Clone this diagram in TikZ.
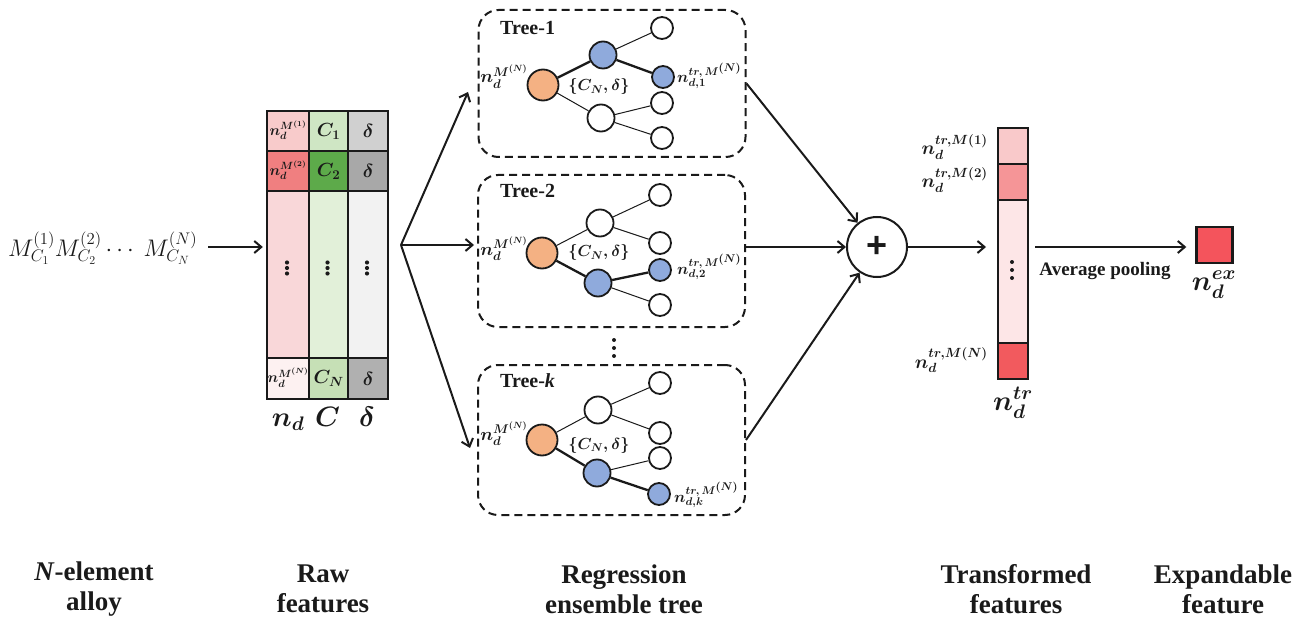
\RequirePackage{fix-cm}
\documentclass[tikz,border=0pt]{standalone}
\usepackage{fontspec}
\setmainfont{Liberation Serif}
\setsansfont{Liberation Sans}
\usetikzlibrary{arrows.meta}

% cell colours
\definecolor{ndA}{HTML}{F8CBCB}
\definecolor{ndB}{HTML}{F07F80}
\definecolor{ndM}{HTML}{F9D7D9}
\definecolor{ndN}{HTML}{FDF1F1}
\definecolor{cA}{HTML}{CFE6C4}
\definecolor{cB}{HTML}{5DAA4A}
\definecolor{cM}{HTML}{E2F0D9}
\definecolor{cN}{HTML}{C6E0B6}
\definecolor{dA}{HTML}{D0D0D0}
\definecolor{dB}{HTML}{A8A8A8}
\definecolor{dM}{HTML}{F2F2F2}
\definecolor{dN}{HTML}{B0B0B0}
\definecolor{tA}{HTML}{F9C9CA}
\definecolor{tB}{HTML}{F59597}
\definecolor{tM}{HTML}{FDE6E7}
\definecolor{tN}{HTML}{F25A5E}
\definecolor{exc}{HTML}{F4545C}
\definecolor{rootc}{HTML}{F4B183}
\definecolor{hlc}{HTML}{8FAADC}
\definecolor{ink}{HTML}{1A1A1A}

% superscript label with a full-size script index
\newcommand{\msup}[1]{M^{\scriptstyle(#1)}}

\begin{document}
\begin{tikzpicture}[x=1pt,y=-1pt,
  every node/.style={text=ink},
  arr/.style={draw=ink, line width=2pt, -{Straight Barb[length=7pt,width=12pt]}},
  cellbox/.style={draw=ink, line width=2.4pt, inner sep=0pt, anchor=north west},
  treebox/.style={draw=ink, dashed, dash pattern=on 8pt off 5pt, line width=2pt,
    rounded corners=20pt, minimum width=267, inner sep=0pt},
  rootn/.style={circle, draw=ink, line width=1.8pt, fill=rootc, minimum size=31, inner sep=0pt},
  midn/.style={circle, draw=ink, line width=1.8pt, fill=white, minimum size=27, inner sep=0pt},
  leafn/.style={circle, draw=ink, line width=1.8pt, fill=white, minimum size=22, inner sep=0pt},
  thick edge/.style={draw=ink, line width=2.3pt},
  thin edge/.style={draw=ink, line width=1pt},
  bm/.style={font=\boldmath\fontsize{#1}{#1}\selectfont, inner sep=0pt},
  caption/.style={font=\fontsize{27}{30}\selectfont\bfseries, align=center},
  vdot/.style={fill=ink, draw=none}
]
\useasboundingbox (0,0) rectangle (1316,620);

% ---------- alloy composition ----------
\node[anchor=base west, inner sep=0pt, font=\fontsize{24}{24}\selectfont] (alloy) at (8,257)
  {$M_{C_1}^{(1)}M_{C_2}^{(2)}\cdots\ M_{C_N}^{(N)}$};
\coordinate (a1) at (208,247);

% ---------- raw feature table ----------
\node[cellbox, fill=ndA, minimum width=42, minimum height=40]  (nd1) at (266,110) {};
\node[cellbox, fill=ndB, minimum width=42, minimum height=40]  (nd2) at (266,150) {};
\node[cellbox, fill=ndM, minimum width=42, minimum height=167] (ndm) at (266,190) {};
\node[cellbox, fill=ndN, minimum width=42, minimum height=41]  (ndn) at (266,357) {};
\node[cellbox, fill=cA, minimum width=39, minimum height=40]  (c1) at (308,110) {};
\node[cellbox, fill=cB, minimum width=39, minimum height=40]  (c2) at (308,150) {};
\node[cellbox, fill=cM, minimum width=39, minimum height=167] (cm) at (308,190) {};
\node[cellbox, fill=cN, minimum width=39, minimum height=41]  (cn) at (308,357) {};
\node[cellbox, fill=dA, minimum width=40, minimum height=40]  (d1) at (347,110) {};
\node[cellbox, fill=dB, minimum width=40, minimum height=40]  (d2) at (347,150) {};
\node[cellbox, fill=dM, minimum width=40, minimum height=167] (dm) at (347,190) {};
\node[cellbox, fill=dN, minimum width=40, minimum height=41]  (dn) at (347,357) {};
\node[minimum width=121, minimum height=288, inner sep=0pt] (tbl) at (326.5,254) {};

\node[bm=15] at ([yshift=1pt]nd1.center) {$n_d^{M^{(1)}}$};
\node[bm=15] at ([yshift=1pt]nd2.center) {$n_d^{M^{(2)}}$};
\node[bm=15] at ([yshift=1pt]ndn.center) {$n_d^{M^{(N)}}$};
\node[bm=19] at (c1) {$C_1$};
\node[bm=19] at (c2) {$C_2$};
\node[bm=19] at (cn) {$C_N$};
\node[bm=19] at (d1) {$\delta$};
\node[bm=19] at (d2) {$\delta$};
\node[bm=19] at (dn) {$\delta$};
\foreach \cx in {287,327.5,367}{
  \foreach \cy in {262.5,268,273.5}{
    \fill[vdot] (\cx,\cy) circle (2.1pt);
  }
}
\node[bm=28, anchor=base] at (288,426) {$n_d$};
\node[bm=28, anchor=base] at (327.5,426) {$C$};
\node[bm=28, anchor=base] at (367,426) {$\delta$};

\draw[arr, shorten >=3pt] (a1) -- (a1 -| tbl.west);

% ---------- regression trees ----------
\node[treebox, minimum height=147] (box1) at (612,83.5) {};
\node[treebox, minimum height=152] (box2) at (611.5,251) {};
\node[treebox, minimum height=150] (boxk) at (611.5,440) {};

\coordinate (fork) at (401,245);
\coordinate (in1) at (468,92);
\coordinate (in2) at (474,245);
\coordinate (in3) at (470,448);
\draw[arr] (fork) -- (in1);
\draw[arr] (fork) -- (in2);
\draw[arr] (fork) -- (in3);

\foreach \cy in {340,348,356}{ \fill[vdot] (614,\cy) circle (2pt); }

% Tree-1
\node[anchor=base west, inner sep=0pt, font=\fontsize{20}{20}\selectfont\bfseries] (t1) at (500,35) {Tree-1};
\node[rootn] (r1) at (543,85) {};
\node[midn, fill=hlc] (u1) at (603,55) {};
\node[midn] (w1) at (601,118) {};
\node[leafn] (l11) at (662,28) {};
\node[leafn, fill=hlc] (l12) at (663,77) {};
\node[leafn] (l13) at (662,103) {};
\node[leafn] (l14) at (662,138) {};
\draw[thick edge] (r1) -- (u1);
\draw[thick edge] (u1) -- (l12);
\draw[thin edge] (u1) -- (l11);
\draw[thin edge] (r1) -- (w1);
\draw[thin edge] (w1) -- (l13);
\draw[thin edge] (w1) -- (l14);
\node[bm=18, anchor=base east] at (528,83) {$n_d^{M^{(N)}}$};
\node[bm=16] at (599,87) {$\{C_N,\delta\}$};
\node[bm=16, anchor=base west] at (677,83) {$n_{d,1}^{tr,\,\msup{N}}$};

% Tree-2
\node[anchor=base west, inner sep=0pt, font=\fontsize{20}{20}\selectfont\bfseries] (t2) at (500,198) {Tree-2};
\node[rootn] (r2) at (542,253) {};
\node[midn] (u2) at (600,223) {};
\node[midn, fill=hlc] (w2) at (598,283) {};
\node[leafn] (l21) at (660,195) {};
\node[leafn] (l22) at (660,243) {};
\node[leafn, fill=hlc] (l23) at (660,270) {};
\node[leafn] (l24) at (660,305) {};
\draw[thick edge] (r2) -- (w2);
\draw[thick edge] (w2) -- (l23);
\draw[thin edge] (r2) -- (u2);
\draw[thin edge] (u2) -- (l21);
\draw[thin edge] (u2) -- (l22);
\draw[thin edge] (w2) -- (l24);
\node[bm=18, anchor=base east] at (528,255) {$n_d^{M^{(N)}}$};
\node[bm=16] at (599,253) {$\{C_N,\delta\}$};
\node[bm=16, anchor=base west] at (677,274) {$n_{d,2}^{tr,\,\msup{N}}$};

% Tree-k
\node[anchor=base west, inner sep=0pt, font=\fontsize{20}{20}\selectfont\bfseries] (tk) at (500,387) {Tree-\textit{k}};
\node[rootn] (rk) at (542,440) {};
\node[midn] (uk) at (598,410) {};
\node[midn, fill=hlc] (wk) at (597,473) {};
\node[leafn] (lk1) at (660,383) {};
\node[leafn] (lk2) at (660,433) {};
\node[leafn] (lk3) at (660,458) {};
\node[leafn, fill=hlc] (lk4) at (659,494) {};
\draw[thick edge] (rk) -- (wk);
\draw[thick edge] (wk) -- (lk4);
\draw[thin edge] (rk) -- (uk);
\draw[thin edge] (uk) -- (lk1);
\draw[thin edge] (uk) -- (lk2);
\draw[thin edge] (wk) -- (lk3);
\node[bm=18, anchor=base east] at (528,440) {$n_d^{M^{(N)}}$};
\node[bm=16] at (599,445) {$\{C_N,\delta\}$};
\node[bm=16, anchor=base west] at (674,502) {$n_{d,k}^{tr,\,\msup{N}}$};

% ---------- summation ----------
\node[circle, draw=ink, line width=2pt, minimum size=60, inner sep=0pt,
  font=\sffamily\bfseries\fontsize{36}{36}\selectfont] (plus) at (877,247) {+};
\draw[arr] (box1.east) -- (plus);
\draw[arr] (box2.east |- plus.west) -- (plus.west);
\draw[arr] (boxk.east) -- (plus);

% ---------- transformed features ----------
\node[cellbox, fill=tA, minimum width=30, minimum height=36]  (tr1) at (997,127) {};
\node[cellbox, fill=tB, minimum width=30, minimum height=36]  (tr2) at (997,163) {};
\node[cellbox, fill=tM, minimum width=30, minimum height=143] (trm) at (997,199) {};
\node[cellbox, fill=tN, minimum width=30, minimum height=36]  (trn) at (997,342) {};
\foreach \cy in {262,270,278}{ \fill[vdot] (1012,\cy) circle (2pt); }
\node[bm=19, anchor=base east] at (988,155) {$n_d^{tr,M(1)}$};
\node[bm=19, anchor=base east] at (988,188) {$n_d^{tr,M(2)}$};
\node[bm=19, anchor=base east] at (988,368) {$n_d^{tr,M(N)}$};
\node[bm=28, anchor=base] at (1013,410) {$n_d^{tr}$};

\draw[arr, shorten >=11pt] (plus.east) -- (plus.east -| trm.west);

% ---------- expandable feature ----------
\node[draw=ink, line width=2.4pt, fill=exc, minimum size=36, inner sep=0pt] (sq) at (1214.5,245) {};
\node[bm=28, anchor=base] at (1214,290) {$n_d^{ex}$};
\draw[arr, shorten <=6pt, shorten >=9pt] (trm.east |- plus.east) -- (sq.west |- plus.east);
\node[anchor=base, inner sep=0pt, font=\fontsize{19}{19}\selectfont\bfseries] (pool) at (1105,276) {Average pooling};

% ---------- stage captions ----------
\node[caption] (cap1) at (94,589) {\textit{N}-element\\alloy};
\node[caption] (cap2) at (323,589) {Raw\\features};
\node[caption] (cap3) at (624,589) {Regression\\ensemble tree};
\node[caption] (cap4) at (1016,589) {Transformed\\features};
\node[caption] (cap5) at (1223,589) {Expandable\\feature};
\end{tikzpicture}
\end{document}
